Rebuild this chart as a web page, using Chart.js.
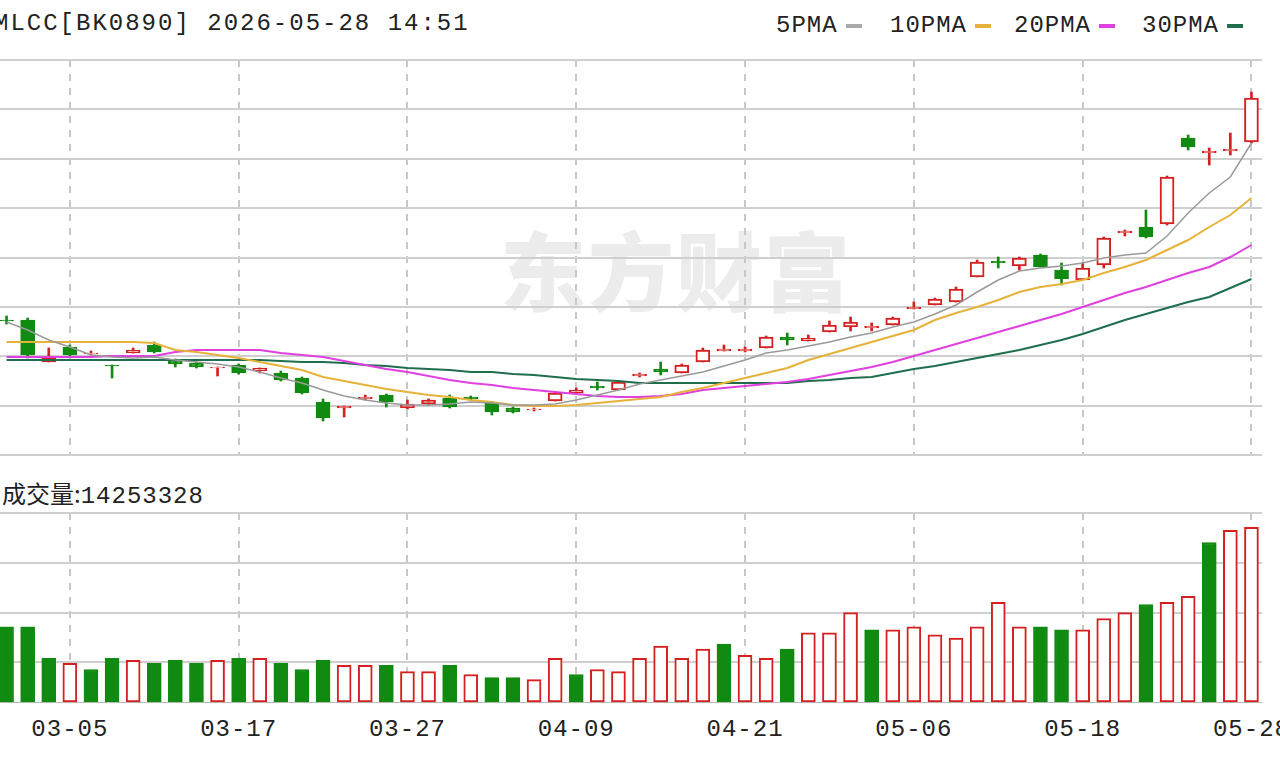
<!DOCTYPE html>
<html>
<head>
<meta charset="utf-8">
<script src="https://cdn.jsdelivr.net/npm/chart.js@4/dist/chart.umd.min.js"></script>
<style>
body{margin:0;width:1280px;height:760px;background:#fff;overflow:hidden;position:relative;font-family:"Liberation Mono",monospace;}
.t{position:absolute;font-size:24px;letter-spacing:2px;color:#222;white-space:nowrap;}
.lg{position:absolute;top:12px;font-size:24px;letter-spacing:1px;color:#222;}
.dash{display:inline-block;width:16px;height:4px;vertical-align:middle;margin-left:8px;}
.xl{position:absolute;top:716px;font-size:24px;color:#222;width:100px;text-align:center;letter-spacing:1px;}
#wm{position:absolute;left:500px;top:205px;font-family:"Noto Sans CJK SC";font-weight:900;font-size:86px;color:#ececec;letter-spacing:2px;}
#pc{position:absolute;left:-4px;top:58px;}
#vc{position:absolute;left:-4px;top:511px;}
</style>
</head>
<body>
<div id="wm">东方财富</div>
<div class="t" style="left:-6px;top:10px">MLCC[BK0890] 2026-05-28 14:51</div>
<div class="lg" style="left:776px">5PMA<span class="dash" style="background:#aaa"></span></div>
<div class="lg" style="left:890px">10PMA<span class="dash" style="background:#e6b23a"></span></div>
<div class="lg" style="left:1014px">20PMA<span class="dash" style="background:#e040e0"></span></div>
<div class="lg" style="left:1142px">30PMA<span class="dash" style="background:#1f6f4f"></span></div>
<div class="t" style="left:2px;top:475px;font-family:'Noto Sans CJK SC';letter-spacing:0">成交量:<span style="font-family:'Liberation Mono';letter-spacing:1px">14253328</span></div>
<canvas id="pc" width="1266" height="399"></canvas>
<canvas id="vc" width="1266" height="192"></canvas>
<div id="xlabels"></div>
<script>
var dates = ['03-02','03-03','03-04','03-05','03-06','03-09','03-10','03-11','03-12','03-13','03-16','03-17','03-18','03-19','03-20','03-23','03-24','03-25','03-26','03-27','03-30','03-31','04-01','04-02','04-03','04-07','04-08','04-09','04-10','04-13','04-14','04-15','04-16','04-17','04-20','04-21','04-22','04-23','04-24','04-27','04-28','04-29','04-30','05-06','05-07','05-08','05-11','05-12','05-13','05-14','05-15','05-18','05-19','05-20','05-21','05-22','05-25','05-26','05-27','05-28'];
var shownDates = {3:'03-05',11:'03-17',19:'03-27',27:'04-09',35:'04-21',43:'05-06',51:'05-18',59:'05-28'};

var open  = [180,180,138,153,146,135,147,155,140,137,132,135,129,127,122,98,92,101,105,92,96,102,103,97,92,90,99,107,114,110,124,131,127,138,149,149,152,163,159,168,173,172,175,191,195,198,223,239,234,245,230,220,235,267,273,276,362,347,349,358];
var high  = [184,182,152,155,149,135,152,158,141,138,133,136,132,129,123,101,94,105,106,100,101,105,104,98,93,92,108,112,118,119,127,138,136,152,155,153,164,167,165,179,183,177,183,198,202,213,240,243,243,246,237,237,263,270,290,324,365,352,367,408];
var low   = [176,142,138,144,145,122,147,147,133,132,124,126,127,119,106,79,83,100,93,91,95,92,100,85,87,89,99,107,110,110,123,125,127,138,149,148,152,155,159,168,169,169,175,191,195,198,223,232,230,233,215,220,232,264,262,275,350,335,345,357];
var close = [179,145,142,145,147,134,150,148,136,133,133,127,132,120,107,82,94,103,98,96,100,93,101,88,88,91,107,110,112,118,126,128,135,150,151,151,163,160,162,175,178,174,182,193,201,211,238,237,242,233,221,232,262,269,263,323,353,349,351,402];

var ma5  = [178,170,160,153,145,143,142,143,140,138,136,133,128,122,117,110,104,100,97,95,95,96,98,97,95,95,96,100,105,110,116,120,124,128,134,140,147,150,154,158,163,167,173,178,186,195,208,220,229,232,234,237,242,245,247,264,287,307,323,357];
var ma10 = [158,158,158,158,158,158,158,157,150,148,145,142,138,134,130,123,119,115,111,108,105,103,100,98,95,94,94,95,97,99,101,103,108,112,117,122,127,132,140,146,152,158,164,170,180,187,193,200,208,213,216,220,227,233,240,250,260,273,285,302];
var ma20 = [143,143,143,143,143,144,144,144,148,150,150,150,150,147,145,143,139,135,131,128,124,120,117,115,112,110,108,106,104,103,103,104,106,110,112,114,116,118,121,125,129,133,138,144,150,156,162,168,174,180,186,193,200,207,213,220,227,233,243,255];
var ma30 = [140,140,140,140,140,140,140,140,140,140,140,140,140,139,138,138,137,135,134,132,131,130,128,128,126,125,123,121,120,119,117,117,117,117,117,117,117,117,119,120,122,123,127,131,134,138,142,146,150,155,160,166,173,180,186,192,198,203,212,221];

var volume = [6180000,6180000,3630000,3210000,2720000,3630000,3460000,3210000,3460000,3210000,3460000,3630000,3630000,3210000,2720000,3460000,3050000,3050000,3050000,2550000,2550000,3050000,2310000,2060000,2060000,1900000,3630000,2310000,2720000,2550000,3630000,4610000,3630000,4370000,4780000,3870000,3630000,4370000,5690000,5690000,7330000,5930000,5930000,6180000,5520000,5270000,6180000,8160000,6180000,6180000,5930000,5930000,6840000,7330000,7990000,8160000,8650000,13020000,14010000,14253328];
var volUp = 'GGGRGGRGGGRGRGGGRRGRRGRGGRRGRRRRRRGRRGRRRGRRRRRRRGGRRRGRRGRR';

var RED = '#d42020', GREEN = '#108a10';
var up = close.map(function(c, i){ return c >= open[i]; });

var wicks = low.map(function(l, i){ return [l, high[i]]; });
var bodies = open.map(function(o, i){ return [o, close[i]]; });

var gridX = function(ctx){ return shownDates[ctx.index] !== undefined ? '#c8c8c8' : 'rgba(0,0,0,0)'; };

new Chart(document.getElementById('pc'), {
    data: {
        labels: dates,
        datasets: [
            {type:'line', data: ma5, borderColor:'#9a9a9a', borderWidth:1.5, pointRadius:0, order:1},
            {type:'line', data: ma10, borderColor:'#e6b23a', borderWidth:2, pointRadius:0, order:1},
            {type:'line', data: ma20, borderColor:'#e040e0', borderWidth:2, pointRadius:0, order:1},
            {type:'line', data: ma30, borderColor:'#1f6f4f', borderWidth:2, pointRadius:0, order:1},
            {type:'bar', data: wicks, backgroundColor: up.map(function(u){ return u ? RED : GREEN; }), barThickness:2, grouped:false, order:3},
            {type:'bar', data: bodies, backgroundColor: up.map(function(u){ return u ? '#fff' : GREEN; }),
             borderColor: up.map(function(u){ return u ? RED : GREEN; }), borderWidth:2, borderSkipped:false, barThickness:14, grouped:false, order:2}
        ]
    },
    options: {
        animation:false, responsive:false,
        layout:{padding:{top:2,bottom:2}},
        plugins:{legend:{display:false}, tooltip:{enabled:false}},
        scales:{
            x:{display:true, ticks:{display:false}, border:{display:false, dash:[7,7]},
               grid:{offset:false, color:gridX, lineWidth:2, drawTicks:false}},
            y:{min:45, max:440, ticks:{display:false, stepSize:49.375}, border:{display:false},
               grid:{color:'#cfcfcf', lineWidth:2, drawTicks:false}}
        }
    }
});

var volMax = 15410000;
var volTicks = [0, volMax-3*4040000, volMax-2*4040000, volMax-4040000, volMax];

new Chart(document.getElementById('vc'), {
    type:'bar',
    data:{
        labels: dates,
        datasets:[{
            data: volume,
            backgroundColor: volUp.split('').map(function(c){ return c == 'R' ? '#fff' : GREEN; }),
            borderColor: volUp.split('').map(function(c){ return c == 'R' ? RED : GREEN; }),
            borderWidth:2, borderSkipped:false, barThickness:14
        }]
    },
    options:{
        animation:false, responsive:false,
        layout:{padding:{top:2}},
        plugins:{legend:{display:false}, tooltip:{enabled:false}},
        scales:{
            x:{ticks:{display:false}, border:{color:'#bbb', width:2, dash:[7,7]},
               grid:{offset:false, color:gridX, lineWidth:2, drawTicks:false}},
            y:{min:0, max:volMax, ticks:{display:false}, border:{display:false},
               afterBuildTicks:function(s){ s.ticks = volTicks.map(function(v){ return {value:v}; }); },
               grid:{color:'#cfcfcf', lineWidth:2, drawTicks:false}}
        }
    },
    plugins:[{
        id:'xlabels',
        afterDraw:function(chart){
            var html = '', xs = chart.scales.x;
            Object.keys(shownDates).forEach(function(k){
                var x = xs.getPixelForValue(+k) - 4;
                html += '<div class="xl" style="left:' + (x - 50) + 'px">' + shownDates[k] + '</div>';
            });
            document.getElementById('xlabels').innerHTML = html;
        }
    }]
});
</script>
</body>
</html>
